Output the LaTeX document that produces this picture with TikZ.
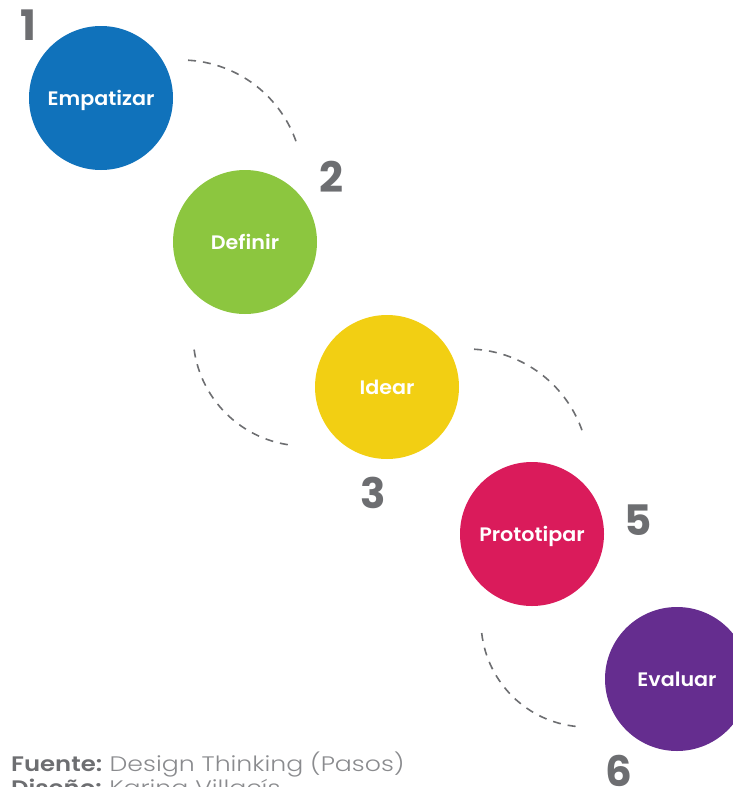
\documentclass[tikz,border=0pt]{standalone}
\usepackage{fontspec}
\setmainfont{Poppins}
\newfontfamily\lightfont[FakeStretch=1.2]{Poppins Light}
\newfontfamily\creditbold[FakeStretch=1.16]{Poppins SemiBold}
\newfontfamily\labelfont[FakeStretch=1.06]{Poppins SemiBold}
\definecolor{cblue}{HTML}{1072BB}
\definecolor{cgreen}{HTML}{8CC63F}
\definecolor{cyellow}{HTML}{F2CF13}
\definecolor{cpink}{HTML}{DA1B5B}
\definecolor{cpurple}{HTML}{652D8F}
\definecolor{cgray}{HTML}{6D6E71}
\definecolor{clight}{HTML}{8A8B8E}
\tikzset{
  stage/.style={circle, fill=#1, minimum size=144pt, inner sep=0pt, text=white, text height=14pt, text depth=0pt, font=\labelfont\fontsize{19.5}{22}\selectfont},
  num/.style={text=cgray, font=\fontsize{42}{44}\selectfont\bfseries, inner sep=0pt},
  arcline/.style={cgray, line width=1.6pt, dash pattern=on 8pt off 7pt},
  credit/.style={anchor=base west, inner sep=0pt, font=\fontsize{21}{24}\selectfont},
}
\begin{document}
\begin{tikzpicture}[x=1pt,y=-1pt]
\useasboundingbox (0,0) rectangle (733,787);
\clip (0,0) rectangle (733,787);
% stages
\node[stage=cblue] (s1) at (101,98) {Empatizar};
\node[stage=cgreen] (s2) at (245,242) {Definir};
\node[stage=cyellow] (s3) at (387,387) {Idear};
\node[stage=cpink] (s4) at (532,534) {Prototipar};
\node[stage=cpurple] (s5) at (677,679) {Evaluar};
% numbers
\node[num] (n1) at (28,25) {1};
\node[num] (n2) at (331,177) {2};
\node[num] (n3) at (373,493) {3};
\node[num] (n5) at (638,520) {5};
\node[num] (n6) at (619,771) {6};
% dashed arcs
\coordinate (c1) at (181,182);
\coordinate (c2) at (305,334);
\coordinate (c3) at (467,471);
\coordinate (c4) at (587,621);
\draw[arcline] (c1) ++(-86.7:122) arc[start angle=-86.7, end angle=-18.7, radius=122];
\draw[arcline] (c2) ++(-188:112) arc[start angle=-188, end angle=-262, radius=112];
\draw[arcline] (c3) ++(-86.7:122) arc[start angle=-86.7, end angle=-18.7, radius=122];
\draw[arcline] (c4) ++(-186.5:106) arc[start angle=-186.5, end angle=-264.6, radius=106];
% credits
\node[credit] (f1) at (11,771) {\textcolor{cgray}{\creditbold Fuente:} \textcolor{clight}{\lightfont Design Thinking (Pasos)}};
\node[credit] (f2) at (11,795) {\textcolor{cgray}{\creditbold Diseño:} \textcolor{clight}{\lightfont Karina Villacís}};
\end{tikzpicture}
\end{document}
